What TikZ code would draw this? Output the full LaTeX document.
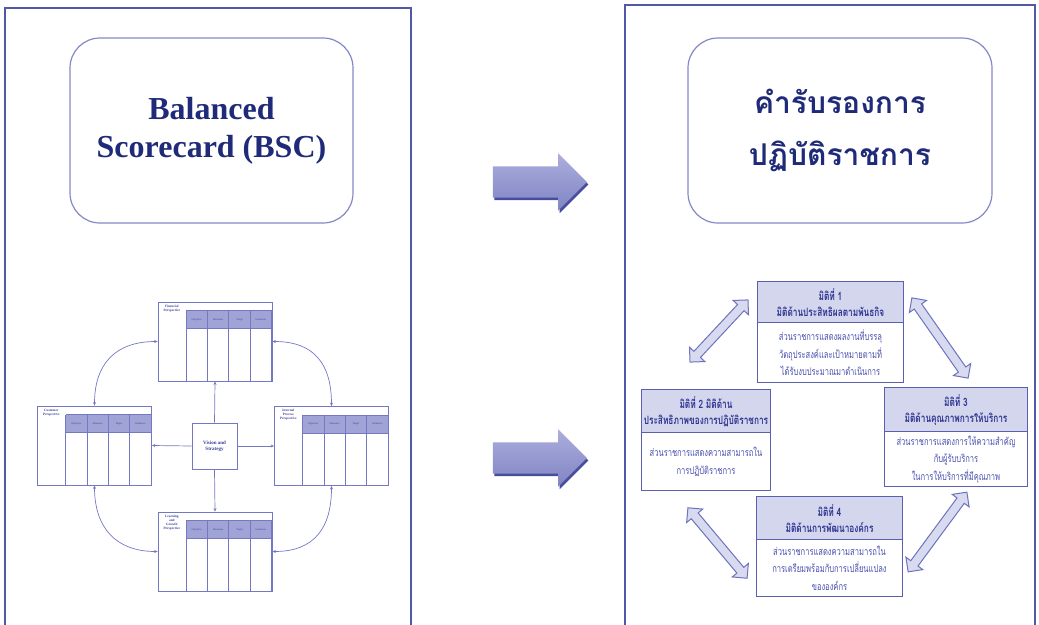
\documentclass[tikz,border=0pt]{standalone}
\usepackage{fontspec}
\setmainfont{Liberation Serif}
\newfontfamily\thaifont[Script=Thai]{Loma}
\newfontfamily\thainarrow[Script=Thai,FakeStretch=0.72]{Loma}
\usetikzlibrary{calc,shapes.arrows,shadows,arrows.meta}

\definecolor{frameblue}{HTML}{5257A6}
\definecolor{roundblue}{HTML}{8488C6}
\definecolor{titleblue}{HTML}{1F2A78}
\definecolor{tabline}{HTML}{7478C2}
\definecolor{tabhdr}{HTML}{A0A3D6}
\definecolor{tabtext}{HTML}{3A3F95}
\definecolor{dimline}{HTML}{5A5FB0}
\definecolor{dimhdr}{HTML}{D4D6EE}
\definecolor{dimtext}{HTML}{2E3590}
\definecolor{dimbodytext}{HTML}{4A50AE}
\definecolor{arrowlight}{HTML}{ABAEDC}
\definecolor{arrowmid}{HTML}{8084C4}
\definecolor{arrowdark}{HTML}{484D9C}
\definecolor{dblfill}{HTML}{D8DAF0}
\definecolor{dblline}{HTML}{6E73BC}

% one perspective table of the scorecard
\newcommand\bsctable[3]{%
  \node[bsctab] (#1) at (#2) {};
  \fill[tabhdr] ($(#1.north west)+(28.5,9)$) rectangle ($(#1.north east)+(0,27)$);
  \foreach \k in {0,...,4}{%
    \draw[bscline] ($(#1.north west)+(28.5+\k*21.375,9)$) -- ($(#1.south west)+(28.5+\k*21.375,0)$);}
  \draw[bscline] ($(#1.north west)+(28.5,9)$) -- ($(#1.north east)+(0,9)$);
  \draw[bscline] ($(#1.north west)+(28.5,27)$) -- ($(#1.north east)+(0,27)$);
  \foreach \lbl [count=\k from 0] in {Objective,Measures,Target,Initiatives}{%
    \node[bsccell] (#1-h\k) at ($(#1.north west)+(39.19+\k*21.375,18)$) {\lbl};}
  \node[bsclabel] (#1-lab) at ($(#1.north west)+(14.25,3)$) {#3};
}

% one dimension box of the performance agreement
\newcommand\dimbox[7]{%
  \node[dimframe, minimum width=#3, minimum height=#4] (#1) at (#2) {};
  \fill[dimhdr] (#1.north west) rectangle ($(#1.north east)+(0,#5)$);
  \draw[dimline, line width=0.9pt] ($(#1.north west)+(0,#5)$) -- ($(#1.north east)+(0,#5)$);
  \draw[dimline, line width=0.9pt] (#1.north west) rectangle (#1.south east);
  \node[dimhead] (#1-h) at ($(#1.north)+(0,#5/2)$) {#6};
  \node[dimbody] (#1-b) at ($(#1.south)+(0,{-(#4-#5)/2})$) {#7};
}

\begin{document}
\begin{tikzpicture}[x=1pt,y=-1pt,
  panel/.style={draw=frameblue, line width=2.6pt},
  titlebox/.style={draw=roundblue, line width=1.2pt, rounded corners=30pt, fill=white,
    align=center, text=titleblue},
  bsctab/.style={draw=tabline, line width=0.8pt, fill=white, minimum width=114, minimum height=79, inner sep=0pt},
  bscline/.style={draw=tabline, line width=0.8pt},
  bsccell/.style={font=\fontsize{2.6}{3}\selectfont, text=tabtext, inner sep=0pt},
  bsclabel/.style={anchor=north, font=\bfseries\fontsize{3.4}{4}\selectfont, text=tabtext, align=center, inner sep=0pt},
  visbox/.style={draw=tabline, line width=0.8pt, fill=white, minimum width=45, minimum height=46, inner sep=0pt,
    align=center, font=\bfseries\fontsize{5}{6}\selectfont, text=tabtext},
  bscarrow/.style={draw=tabline, line width=0.7pt, -{Stealth[length=3.5pt,width=3pt]}},
  bscdouble/.style={draw=tabline, line width=0.7pt, {Stealth[length=3.5pt,width=3pt]}-{Stealth[length=3.5pt,width=3pt]}},
  bigarrow/.style={single arrow, minimum height=94, inner xsep=0pt, inner ysep=15.5pt,
    single arrow head extend=13, top color=arrowlight, bottom color=arrowmid,
    drop shadow={shadow xshift=1.5pt, shadow yshift=-2.5pt, fill=arrowdark, opacity=1}},
  dblarrow/.style={double arrow, draw=dblline, line width=1pt, fill=dblfill,
    inner xsep=0pt, inner ysep=4pt, double arrow head extend=6},
  dimframe/.style={fill=white, inner sep=0pt},
  dimhead/.style={font=\thainarrow\bfseries\fontsize{11.5}{16}\selectfont, text=dimtext, align=center, inner sep=0pt},
  dimbody/.style={font=\thainarrow\fontsize{10.5}{17.5}\selectfont, text=dimbodytext, align=center, inner sep=0pt}
]
\useasboundingbox (0,0) rectangle (1039,624);
\clip (0,0) rectangle (1039,624);

% two page panels
\draw[panel] (5,8) rectangle (411,660);
\draw[panel] (625,5) rectangle (1035,660);

% titles
\node[titlebox, minimum width=283, minimum height=185,
  font=\bfseries\fontsize{32}{38}\selectfont] (bsc) at (211.5,130.5)
  {Balanced\\Scorecard (BSC)};
\node[titlebox, minimum width=304, minimum height=185,
  font=\thaifont\bfseries\fontsize{30}{52}\selectfont] (kr) at (840,130.5)
  {คำรับรองการ\\ปฏิบัติราชการ};

% transition arrows
\node[bigarrow] (ar1) at (532,182) {};
\node[bigarrow] (ar2) at (532,458) {};

% balanced scorecard
\bsctable{fin}{215,341.5}{Financial\\Perspective}
\bsctable{cus}{94.5,445.5}{Customer\\Perspective}
\bsctable{int}{331.5,446}{Internal\\Process\\Perspective}
\bsctable{lrn}{215,551.5}{Learning\\and\\Growth\\Perspective}
\node[visbox] (vis) at (214.5,446) {Vision and\\Strategy};

\draw[bscarrow] (vis.north) -- (fin.south);
\draw[bscarrow] (vis.south) -- (lrn.north);
\draw[bscarrow] (vis.west) -- (cus.east);
\draw[bscarrow] (vis.east) -- (int.west);

\draw[bscdouble] (cus.north) .. controls +(0,-42) and +(-42,0) .. (fin.west);
\draw[bscdouble] (fin.east) .. controls +(42,0) and +(0,-42) .. (int.north);
\draw[bscdouble] (int.south) .. controls +(0,42) and +(42,0) .. (lrn.east);
\draw[bscdouble] (cus.south) .. controls +(0,42) and +(-42,0) .. (lrn.west);

% performance agreement dimensions
\dimbox{d1}{830.5,332}{145}{100}{41}{มิติที่ 1\\มิติด้านประสิทธิผลตามพันธกิจ}
  {ส่วนราชการแสดงผลงานที่บรรลุ\\วัตถุประสงค์และเป้าหมายตามที่\\ได้รับงบประมาณมาดำเนินการ}
\dimbox{d2}{706,440}{128}{100}{43}{มิติที่ 2 มิติด้าน\\ประสิทธิภาพของการปฏิบัติราชการ}
  {ส่วนราชการแสดงความสามารถใน\\การปฏิบัติราชการ}
\dimbox{d3}{956,437}{142}{98}{44}{มิติที่ 3\\มิติด้านคุณภาพการให้บริการ}
  {ส่วนราชการแสดงการให้ความสำคัญ\\กับผู้รับบริการ\\ในการให้บริการที่มีคุณภาพ}
\dimbox{d4}{829.5,546.5}{145}{99}{43}{มิติที่ 4\\มิติด้านการพัฒนาองค์กร}
  {ส่วนราชการแสดงความสามารถใน\\การเตรียมพร้อมกับการเปลี่ยนแปลง\\ขององค์กร}

% links between the dimensions
\node[dblarrow, minimum height=85, rotate=47] (a1) at (719,331) {};
\node[dblarrow, minimum height=98, rotate=-55] (a2) at (940,338) {};
\node[dblarrow, minimum height=92, rotate=-50] (a3) at (717.5,543) {};
\node[dblarrow, minimum height=99, rotate=53.6] (a4) at (937.5,532) {};
\end{tikzpicture}
\end{document}
